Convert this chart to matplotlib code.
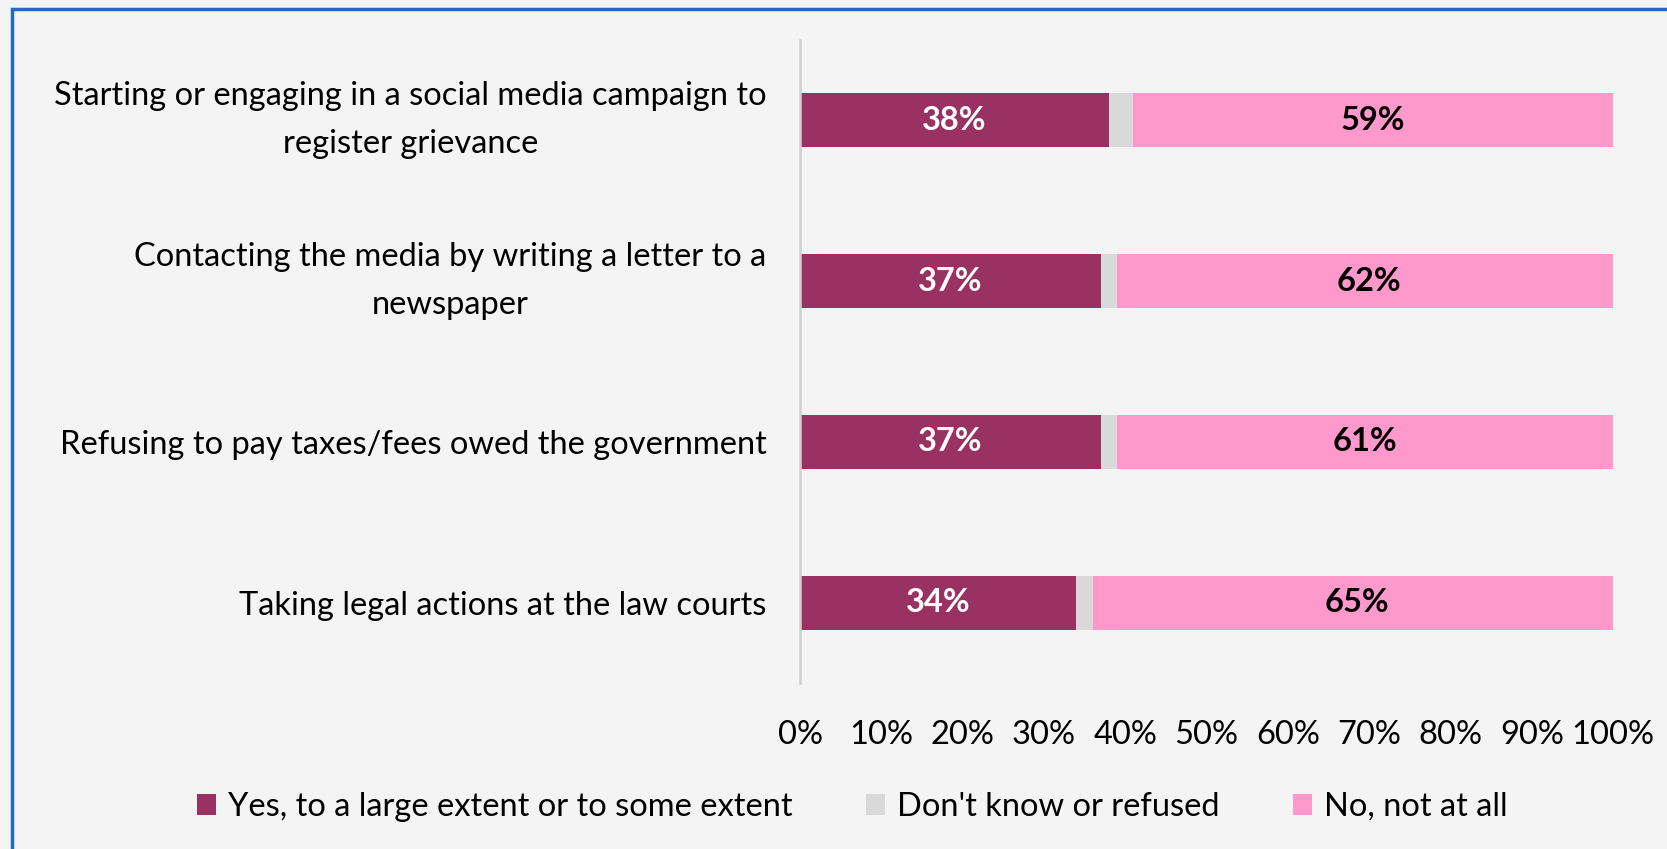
import matplotlib.pyplot as plt
from matplotlib.patches import Rectangle

categories = [
    "Starting or engaging in a social media campaign to\nregister grievance",
    "Contacting the media by writing a letter to a\nnewspaper",
    "Refusing to pay taxes/fees owed the government",
    "Taking legal actions at the law courts",
]
yes_vals = [38, 37, 37, 34]
dk_vals = [3, 2, 2, 2]
no_vals = [59, 62, 61, 65]
series_names = ["Yes, to a large extent or to some extent",
                "Don't know or refused",
                "No, not at all"]
colors = ["#993262", "#d9d9d9", "#ff99cc"]
xticks = list(range(0, 101, 10))

plt.rcParams['font.family'] = ['Lato', 'DejaVu Sans']

fig = plt.figure(figsize=(16.67, 8.49), dpi=100)
fig.patch.set_facecolor("#f4f4f4")
# blue frame around the chart area
fig.add_artist(Rectangle((12 / 1667, -0.05), 1.1, 1 - 9 / 849 + 0.05,
                         transform=fig.transFigure, fill=False,
                         edgecolor="#1f6bc2", linewidth=2.5))

ax = fig.add_axes([800 / 1667, 1 - 683 / 849, 813 / 1667, 643 / 849])
ax.set_facecolor("none")

y = list(range(len(categories)))
h = 0.335
left = [0] * len(y)
for vals, col, name in zip([yes_vals, dk_vals, no_vals], colors, series_names):
    ax.barh(y, vals, left=left, height=h, color=col, label=name)
    left = [l + v for l, v in zip(left, vals)]

fs = 23.5
for i in y:
    ax.text(yes_vals[i] / 2, i, f"{yes_vals[i]}%", ha="center", va="center",
            color="white", fontsize=fs, fontweight="bold")
    start = yes_vals[i] + dk_vals[i]
    ax.text(start + no_vals[i] / 2, i, f"{no_vals[i]}%", ha="center", va="center",
            color="black", fontsize=fs, fontweight="bold")

ax.set_xlim(0, 100)
ax.set_ylim(len(categories) - 0.5, -0.5)
ax.set_xticks(xticks)
ax.set_xticklabels([f"{t}%" for t in xticks], fontsize=fs)
ax.set_yticks(y)
ax.set_yticklabels(categories, fontsize=fs, ha="right", multialignment="center",
                   linespacing=1.75)
# two-line labels sit centred on their bar
for lbl in ax.get_yticklabels():
    if "\n" in lbl.get_text():
        lbl.set_va("center")
ax.tick_params(axis="both", length=0)
ax.tick_params(axis="x", pad=27)
ax.tick_params(axis="y", pad=24)
for s in ["top", "right", "bottom"]:
    ax.spines[s].set_visible(False)
ax.spines["left"].set_color("#d0d0d0")
ax.spines["left"].set_linewidth(1.8)

leg = fig.legend(loc="center", bbox_to_anchor=(0.511, 1 - 807 / 849), ncol=3,
                 frameon=False, fontsize=fs, handlelength=0.6, handleheight=0.6,
                 handletextpad=0.35, columnspacing=2.25)

fig.savefig("out.png", dpi=100, facecolor=fig.get_facecolor())
